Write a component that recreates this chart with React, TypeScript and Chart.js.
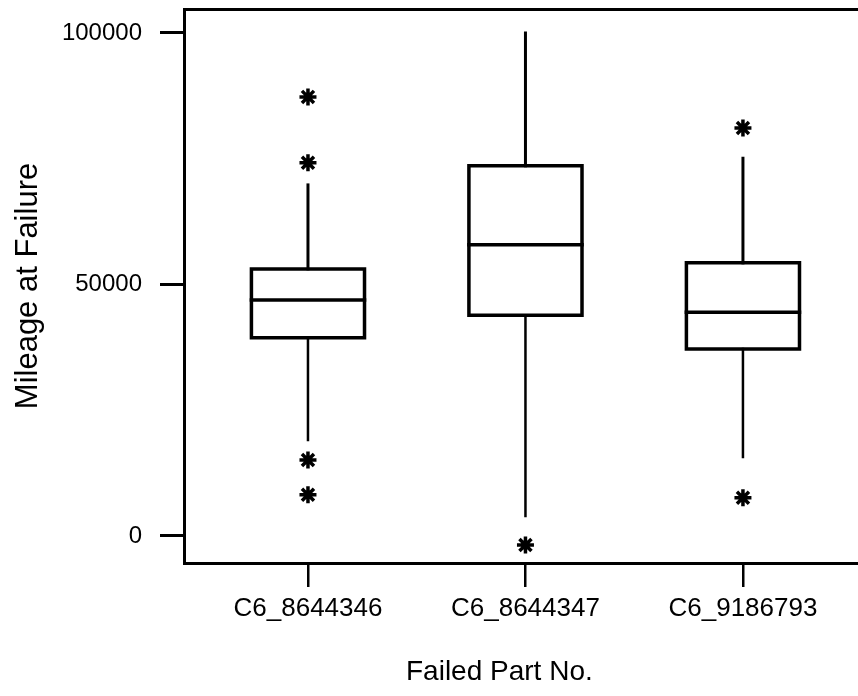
import { useEffect, useRef } from 'react';
import { Chart, registerables } from 'chart.js';

Chart.register(...registerables);

const categories = ['C6_8644346', 'C6_8644347', 'C6_9186793'];
const q1Values = [39400, 43900, 37200];
const medianValues = [46900, 57900, 44500];
const q3Values = [53100, 73600, 54300];
const whiskerLow = [19100, 4000, 15700];
const whiskerHigh = [69800, 100000, 75100];
const outlierValues = [[87300, 74200, 15100, 8200], [-1800], [81100, 7600]];
const yTicks = [0, 50000, 100000];
const yTitle = 'Mileage at Failure';
const xTitle = 'Failed Part No.';

const FONT = "'Liberation Sans', Arial, Helvetica, sans-serif";
const BOX_HALF = 0.26;
const W = 858;
const H = 696;

export default function App() {
  const ref = useRef<HTMLCanvasElement>(null);

  useEffect(() => {
    if (!ref.current) return;
    const line = (pts: { x: number; y: number }[], width = 3.5) => ({
      type: 'scatter' as const,
      data: pts,
      showLine: true,
      borderColor: '#000',
      backgroundColor: '#000',
      borderWidth: width,
      pointRadius: 0,
      pointHoverRadius: 0,
      fill: false,
      tension: 0,
      borderCapStyle: 'square' as const,
      borderJoinStyle: 'miter' as const,
    });

    const datasets: any[] = [];
    categories.forEach((_, i) => {
      const x = i + 1;
      datasets.push(
        line([
          { x: x - BOX_HALF, y: q1Values[i] },
          { x: x + BOX_HALF, y: q1Values[i] },
          { x: x + BOX_HALF, y: q3Values[i] },
          { x: x - BOX_HALF, y: q3Values[i] },
          { x: x - BOX_HALF, y: q1Values[i] },
        ])
      );
      datasets.push(
        line([
          { x: x - BOX_HALF, y: medianValues[i] },
          { x: x + BOX_HALF, y: medianValues[i] },
        ])
      );
      datasets.push(
        line(
          [
            { x, y: q3Values[i] },
            { x, y: whiskerHigh[i] },
          ],
          3
        )
      );
      datasets.push(
        line(
          [
            { x, y: q1Values[i] },
            { x, y: whiskerLow[i] },
          ],
          2.5
        )
      );
      datasets.push({
        type: 'scatter',
        data: outlierValues[i].map((v) => ({ x, y: v })),
        showLine: false,
        pointStyle: 'star',
        pointRadius: 8.5,
        pointHoverRadius: 8.5,
        borderColor: '#000',
        backgroundColor: '#000',
        pointBorderWidth: 3.5,
        borderWidth: 3.5,
      });
    });

    const xTitlePlugin = {
      id: 'xTitlePlugin',
      afterDraw(chart: any) {
        const ctx = chart.ctx;
        const xs = chart.scales.x;
        ctx.save();
        ctx.fillStyle = '#000';
        ctx.font = `28px ${FONT}`;
        ctx.textAlign = 'center';
        ctx.textBaseline = 'alphabetic';
        ctx.fillText(xTitle, xs.getPixelForValue(1.88), xs.bottom - 16);
        ctx.restore();
      },
    };

    const noPadX = (h: number) => (s: any) => {
      s.height = h;
      s.paddingLeft = 0;
      s.paddingRight = 0;
    };

    const chart = new Chart(ref.current, {
      type: 'scatter',
      data: { datasets },
      plugins: [xTitlePlugin],
      options: {
        animation: false,
        responsive: false,
        maintainAspectRatio: false,
        layout: { padding: 0, autoPadding: false },
        plugins: { legend: { display: false }, tooltip: { enabled: false } },
        scales: {
          x: {
            type: 'linear',
            position: 'bottom',
            min: 0.43,
            max: 3.529,
            afterFit: noPadX(133),
            afterBuildTicks: (s: any) => {
              s.ticks = categories.map((_, i) => ({ value: i + 1 }));
            },
            ticks: {
              autoSkip: false,
              maxRotation: 0,
              padding: 6,
              color: '#000',
              font: { family: FONT, size: 26 },
              callback: (_v: any, idx: number) => categories[idx],
            },
            grid: {
              display: true,
              drawOnChartArea: false,
              drawTicks: true,
              tickLength: 24,
              color: '#000',
              lineWidth: 2.5,
            },
            border: { display: true, color: '#000', width: 3 },
          },
          x2: {
            type: 'linear',
            position: 'top',
            min: 0.43,
            max: 3.529,
            afterFit: noPadX(9),
            ticks: { display: false },
            grid: { display: false, drawTicks: false },
            border: { display: true, color: '#000', width: 3 },
          },
          y: {
            type: 'linear',
            position: 'left',
            min: -5368,
            max: 104771,
            afterFit: (s: any) => {
              s.width = 184;
              s.paddingTop = 0;
              s.paddingBottom = 0;
            },
            afterBuildTicks: (s: any) => {
              s.ticks = yTicks.map((v) => ({ value: v }));
            },
            ticks: {
              padding: 18,
              color: '#000',
              font: { family: FONT, size: 24 },
              callback: (v: any) => String(v),
            },
            grid: {
              display: true,
              drawOnChartArea: false,
              drawTicks: true,
              tickLength: 24,
              color: '#000',
              lineWidth: 3,
            },
            border: { display: true, color: '#000', width: 3 },
            title: {
              display: true,
              text: yTitle,
              color: '#000',
              font: { family: FONT, size: 31 },
              padding: { top: 10, bottom: 0 },
            },
          },
        },
      },
    });
    return () => chart.destroy();
  }, []);

  return (
    <div style={{ position: 'fixed', left: 0, top: 0, width: W, height: H, background: '#fff' }}>
      <canvas ref={ref} width={W} height={H} style={{ display: 'block', width: W, height: H }} />
    </div>
  );
}
